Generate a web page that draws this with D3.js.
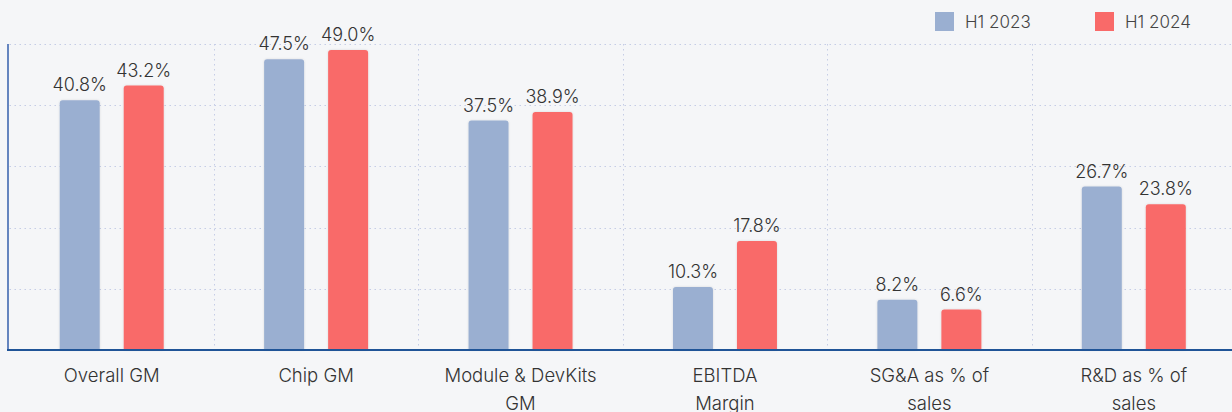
<!DOCTYPE html>
<html>
<head>
<meta charset="utf-8">
<script src="https://cdn.jsdelivr.net/npm/d3@7"></script>
<style>
  html, body { margin: 0; padding: 0; background: #F5F6F8; }
  svg { display: block; font-family: Inter, "Liberation Sans", Arial, sans-serif; font-weight: 300; }
</style>
</head>
<body>
<svg id="chart" width="1232" height="412"></svg>
<script>
const categories = ["Overall GM", "Chip GM", "Module & DevKits\nGM", "EBITDA\nMargin", "SG&A as % of\nsales", "R&D as % of\nsales"];
const seriesNames = ["H1 2023", "H1 2024"];
const valuesH12023 = [40.8, 47.5, 37.5, 10.3, 8.2, 26.7];
const valuesH12024 = [43.2, 49.0, 38.9, 17.8, 6.6, 23.8];
const yTicks = [0, 10, 20, 30, 40, 50];
const colors = ["#9AAFD1", "#F96A69"];

const svg = d3.select("#chart");
const W = 1232, H = 412;
const m = { left: 9.5, right: -4, top: 44, bottom: 62 };
const plotW = W - m.left - m.right, plotH = H - m.top - m.bottom;

const data = categories.map((c, i) => ({ cat: c, vals: [valuesH12023[i], valuesH12024[i]] }));

const x0 = d3.scaleBand().domain(categories).range([m.left, m.left + plotW]).padding(0);
const x1 = d3.scaleBand().domain(seriesNames).range([-52, 52]).paddingInner(0.375).paddingOuter(0);
const y = d3.scaleLinear().domain([0, 50]).range([m.top + plotH, m.top]);

const defs = svg.append("defs");
const f = defs.append("filter").attr("id", "sh").attr("x", "-20%").attr("y", "-20%").attr("width", "140%").attr("height", "140%");
f.append("feDropShadow").attr("dx", 0).attr("dy", 0).attr("stdDeviation", 1).attr("flood-color", "#000").attr("flood-opacity", 0.12);

// horizontal grid
svg.append("g").selectAll("line").data(yTicks.slice(1)).join("line")
  .attr("x1", m.left).attr("x2", W)
  .attr("y1", d => Math.round(y(d)) + 0.5).attr("y2", d => Math.round(y(d)) + 0.5)
  .attr("stroke", "#C5CDE6").attr("stroke-width", 1).attr("stroke-dasharray", "1.5,3.5");

// vertical grid at band boundaries
svg.append("g").selectAll("line").data(categories.slice(1)).join("line")
  .attr("x1", d => Math.round(x0(d)) + 0.5).attr("x2", d => Math.round(x0(d)) + 0.5)
  .attr("y1", y(50)).attr("y2", y(0))
  .attr("stroke", "#C5CDE6").attr("stroke-width", 1).attr("stroke-dasharray", "1.5,3.5");

// bars
const r = 3;
function topRounded(x, yTop, w, yBase) {
  const h = yBase - yTop;
  const rr = Math.min(r, h / 2);
  return `M${x},${yBase}V${yTop + rr}Q${x},${yTop} ${x + rr},${yTop}H${x + w - rr}Q${x + w},${yTop} ${x + w},${yTop + rr}V${yBase}Z`;
}
const groups = svg.append("g").selectAll("g").data(data).join("g")
  .attr("transform", d => `translate(${x0(d.cat) + x0.bandwidth() / 2},0)`);

groups.selectAll("path").data(d => d.vals.map((v, i) => ({ v, s: seriesNames[i], i }))).join("path")
  .attr("d", d => topRounded(x1(d.s), y(d.v), x1.bandwidth(), y(0)))
  .attr("fill", d => colors[d.i])
  .attr("filter", "url(#sh)");

groups.selectAll("text.val").data(d => d.vals.map((v, i) => ({ v, s: seriesNames[i], i }))).join("text")
  .attr("class", "val")
  .attr("x", d => x1(d.s) + x1.bandwidth() / 2)
  .attr("y", d => y(d.v) - 9)
  .attr("text-anchor", "middle")
  .attr("font-size", 18)
  .attr("fill", "#333")
  .text(d => d.v.toFixed(1) + "%");

// axes lines
svg.append("line").attr("x1", 8).attr("x2", 8).attr("y1", y(50)).attr("y2", y(0) + 1)
  .attr("stroke", "#6585BF").attr("stroke-width", 2);
svg.append("line").attr("x1", 7).attr("x2", W).attr("y1", y(0)).attr("y2", y(0))
  .attr("stroke", "#1F5497").attr("stroke-width", 2);

// category labels
const xAxis = svg.append("g").selectAll("text").data(categories).join("text")
  .attr("x", d => x0(d) + x0.bandwidth() / 2)
  .attr("y", 382)
  .attr("text-anchor", "middle")
  .attr("font-size", 18.5)
  .attr("fill", "#333");
xAxis.each(function(d) {
  const lines = d.split("\n");
  const t = d3.select(this);
  lines.forEach((ln, i) => {
    t.append("tspan").attr("x", x0(d) + x0.bandwidth() / 2).attr("dy", i === 0 ? 0 : 28).text(ln);
  });
});

// legend
const legendX = [935, 1095];
const lg = svg.append("g").selectAll("g").data(seriesNames).join("g")
  .attr("transform", (d, i) => `translate(${legendX[i]},12)`);
lg.append("rect").attr("width", 19).attr("height", 19).attr("fill", (d, i) => colors[i]);
lg.append("text").attr("x", 30).attr("y", 16).attr("font-size", 17).attr("fill", "#444").text(d => d);
</script>
</body>
</html>
